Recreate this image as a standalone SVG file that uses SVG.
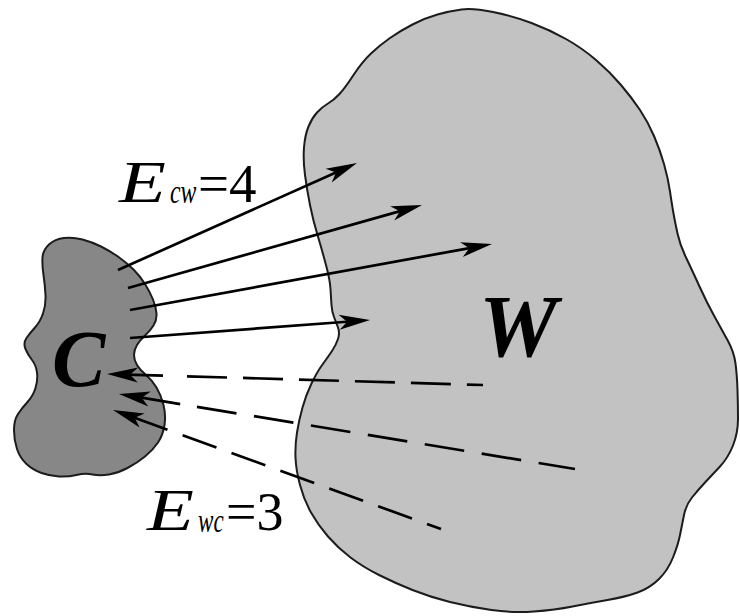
<svg xmlns="http://www.w3.org/2000/svg" width="740" height="616" viewBox="0 0 740 616">
<style>
.blob{stroke:#1c1c1c;stroke-width:2;stroke-linejoin:round}
.w{fill:#c2c2c2}
.c{fill:#878787}
.ln{stroke:#000;stroke-width:2.7;fill:none;stroke-linecap:butt}
.arr{marker-end:url(#ah)}
.lbl{font-family:"Liberation Serif","Times New Roman",serif;fill:#000}
.it{font-style:italic}
.big{font-style:italic;font-weight:bold}
</style>
<defs>
<marker id="ah" markerUnits="userSpaceOnUse" markerWidth="34" markerHeight="18" refX="12" refY="9" orient="auto" overflow="visible">
<path d="M32,9 L1,1.5 L9,9 L1,16.5 Z" fill="#000"/>
</marker>
</defs>
<g id="W">
<path class="blob w" d="M461.5,9.5 Q473,8 493,12 Q513,16 531.5,23 Q550,30 566,39 Q582,48 596,60 Q610,72 621,85 Q632,98 640,110 Q648,122 654,136 Q660,150 664,164 Q668,178 670,191.5 Q672,205 673.5,213.5 Q675,222 677.5,233.5 Q680,245 686,257.5 Q692,270 699.5,286.5 Q707,303 714.5,316.5 Q722,330 728,341 Q734,352 735.5,363.5 Q737,375 737.5,390 Q738,405 738,419 Q738,433 733,445.5 Q728,458 720,466.5 Q712,475 705,482.5 Q698,490 692,497.5 Q686,505 684,515 Q682,525 680,535 Q678,545 673,557.5 Q668,570 659,579 Q650,588 637.5,592.5 Q625,597 607.5,600 Q590,603 572.5,606.5 Q555,610 534,611.5 Q513,613 491.5,610 Q470,607 450,602 Q430,597 412.5,590 Q395,583 379,575 Q363,567 350.5,557.5 Q338,548 328,536.5 Q318,525 311,512.5 Q304,500 300,485 Q296,470 295.5,457.5 Q295,445 297,432.5 Q299,420 302.5,407.5 Q306,395 311.5,383.5 Q317,372 322.5,364.5 Q328,357 332,351 Q336,345 338,339 Q340,333 338,327.5 Q336,322 334,317 Q332,312 331.5,305 Q331,298 330.5,289 Q330,280 326,265 Q322,250 317.5,235 Q313,220 310,205 Q307,190 305,175 Q303,160 304,147.5 Q305,135 308.5,126.5 Q312,118 317,112.5 Q322,107 328,103.5 Q334,100 339.5,94 Q345,88 353.5,75 Q362,62 371,53.5 Q380,45 390,38 Q400,31 412.5,24.5 Q425,18 437.5,14.5 Q450,11 461.5,9.5 Z"/>
<text class="lbl big" x="479" y="356" font-size="88">W</text>
</g>
<g id="C">
<path class="blob c" d="M49,244.5 Q55,239 64,238 Q73,237 82.5,239.5 Q92,242 101,246.5 Q110,251 118.5,257 Q127,263 133.5,269.5 Q140,276 145,284 Q150,292 153,299.5 Q156,307 156.5,313.5 Q157,320 153.5,325.5 Q150,331 145,335.5 Q140,340 137,345 Q134,350 134,355 Q134,360 137,365 Q140,370 146,375 Q152,380 156.5,387.5 Q161,395 163.5,405 Q166,415 164.5,425 Q163,435 158,442.5 Q153,450 145,456.5 Q137,463 127.5,468 Q118,473 109,474.5 Q100,476 92.5,474.5 Q85,473 76.5,475 Q68,477 59,476.5 Q50,476 41.5,473 Q33,470 26.5,464 Q20,458 17,449 Q14,440 14,430 Q14,420 18,414 Q22,408 27.5,402 Q33,396 35.5,388 Q38,380 37,372.5 Q36,365 32,360 Q28,355 25.5,349 Q23,343 26.5,338 Q30,333 35,327.5 Q40,322 43,313.5 Q46,305 45.5,295 Q45,285 43.5,275 Q42,265 42.5,257.5 Q43,250 49,244.5 Z"/>
<text class="lbl big" x="52" y="386" font-size="80">C</text>
</g>
<g id="connectors">
<line class="ln arr" x1="118" y1="270" x2="338.7" y2="171.2"/>
<line class="ln arr" x1="128" y1="288" x2="402.8" y2="210.4"/>
<line class="ln arr" x1="130" y1="310" x2="472.3" y2="247.6"/>
<line class="ln arr" x1="130" y1="338" x2="350.1" y2="321.5"/>
<line class="ln arr" x1="163" y1="375.6" x2="127" y2="374.6"/>
<line class="ln" x1="187" y1="376.3" x2="483" y2="385" stroke-dasharray="40 16"/>
<line class="ln arr" x1="180.2" y1="404.1" x2="138.7" y2="397.2"/>
<line class="ln" x1="197" y1="406.8" x2="575" y2="469" stroke-dasharray="40 17.7"/>
<line class="ln arr" x1="167.5" y1="429.8" x2="131.8" y2="416.8"/>
<line class="ln" x1="182.6" y1="435.2" x2="441" y2="529" stroke-dasharray="36 16"/>
</g>
<g id="labels">
<text class="lbl it" font-size="60" transform="translate(119,202) scale(1.28,1)">E</text>
<text class="lbl it" font-size="34" transform="translate(170,203) scale(0.7,1)">cw</text>
<text class="lbl" x="198" y="202" font-size="55">=4</text>
<text class="lbl it" font-size="60" transform="translate(147,530) scale(1.28,1)">E</text>
<text class="lbl it" font-size="34" transform="translate(198,532) scale(0.68,1)">wc</text>
<text class="lbl" x="226" y="530" font-size="54">=3</text>
</g>
</svg>
